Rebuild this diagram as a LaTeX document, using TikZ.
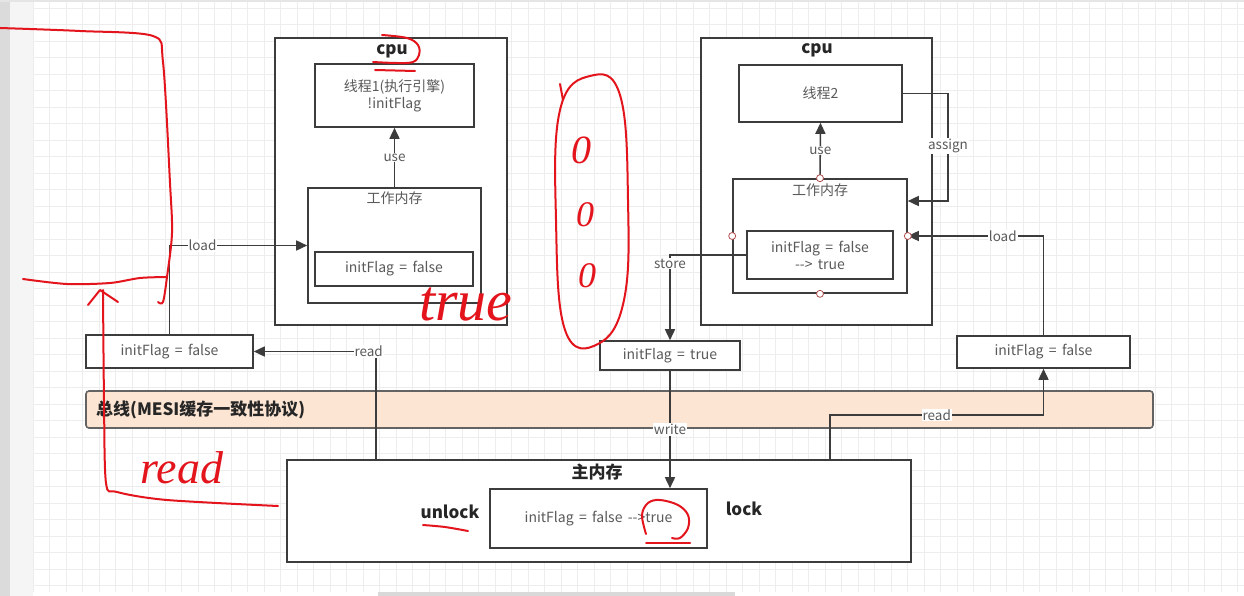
\documentclass[tikz,border=0pt]{standalone}
\usepackage{fontspec}
\setmainfont{Noto Sans CJK SC}[WordSpace=1.7]
\newfontfamily\hand{Liberation Serif}
\usetikzlibrary{arrows.meta,positioning}

\definecolor{linec}{HTML}{3C3C3C}
\definecolor{textc}{HTML}{5A5A5A}
\definecolor{busc}{HTML}{FCE5D3}
\definecolor{pen}{HTML}{E3141C}
\definecolor{gridc}{HTML}{EDEDED}
\definecolor{portc}{HTML}{B05050}

\tikzset{
  box/.style={draw=linec, fill=white, line width=1.6pt, inner sep=0pt, text=textc,
    font=\fontsize{14}{17}\selectfont, align=center},
  title/.style={inner sep=0pt, text=black!85, font=\bfseries\fontsize{17}{19}\selectfont},
  caption/.style={inner sep=0pt, text=textc, font=\fontsize{14}{16}\selectfont},
  link/.style={draw=linec, line width=1.6pt, -{Triangle[length=11pt,width=10pt]}},
  tag/.style={fill=white, inner sep=1pt, text=textc, font=\fontsize{13.5}{15}\selectfont},
  port/.style={circle, draw=portc, fill=white, inner sep=0pt, minimum size=7pt, line width=0.8pt},
  ink/.style={draw=pen, line width=2pt, line cap=round, line join=round},
  scrawl/.style={inner sep=0pt, text=pen, font=\hand\itshape\fontsize{46}{46}\selectfont},
}

\begin{document}
\begin{tikzpicture}[x=1pt,y=-1pt]
  \useasboundingbox (0,0) rectangle (1244,596);

  % page and grid
  \fill[white] (0,0) rectangle (1244,596);
  \foreach \gx in {33,49.5,...,1244} \draw[gridc, line width=0.6pt] (\gx,0) -- (\gx,592);
  \foreach \gy in {8,24.5,...,592} \draw[gridc, line width=0.6pt] (33,\gy) -- (1244,\gy);
  \fill[gray!28] (0,0) rectangle (10,596);
  \fill[gray!8] (10,0) rectangle (33,596);
  \fill[gray!20] (0,0) rectangle (1244,2);
  \fill[gray!30] (378,592) rectangle (735,596);

  % left cpu
  \node[box, minimum width=232, minimum height=287] (cpuL) at (391,181.5) {};
  \node[title] (cpuLt) at (392,51) {cpu};
  \node[box, minimum width=159, minimum height=63] (thL) at (394.5,95.5) {线程1(执行引擎)\\!initFlag};
  \node[box, minimum width=173, minimum height=115] (wmL) at (394.5,245.5) {};
  \node[caption] (wmLt) at (394.5,198) {工作内存};
  \node[box, minimum width=158, minimum height=34] (ivL) at (394,269) {initFlag = false};

  % right cpu
  \node[box, minimum width=231, minimum height=287] (cpuR) at (816.5,181.5) {};
  \node[title] (cpuRt) at (817,50) {cpu};
  \node[box, minimum width=163, minimum height=57] (thR) at (820.5,93.5) {线程2};
  \node[box, minimum width=174, minimum height=114] (wmR) at (820,236) {};
  \node[caption] (wmRt) at (820,190) {工作内存};
  \node[box, minimum width=146, minimum height=48] (ivR) at (820,255) {initFlag = false\\-{}-{}> true};

  % copies on the bus side
  \node[box, minimum width=167, minimum height=33] (lmemL) at (169.5,351.5) {initFlag = false};
  \node[box, minimum width=140, minimum height=29] (lmemM) at (670,355.5) {initFlag = true};
  \node[box, minimum width=173, minimum height=32] (lmemR) at (1043.5,352) {initFlag = false};

  % bus
  \node[box, fill=busc, draw=linec!80, rounded corners=3pt, minimum width=1067, minimum height=37] (bus) at (619.5,409.5) {};
  \node[title, anchor=west] (bust) at (96,410) {总线(MESI缓存一致性协议)};

  % main memory
  \node[box, minimum width=624, minimum height=102] (mainM) at (599,511) {};
  \node[title] (mainMt) at (597,472) {主内存};
  \node[box, minimum width=217, minimum height=59] (ivM) at (598.5,518.5) {initFlag = false -{}-{}>true};
  \node[title] (unlock) at (450,512) {unlock};
  \node[title] (lock) at (744,509) {lock};

  % connectors
  \coordinate (rdLfoot) at (376,460);
  \coordinate (rdRfoot) at (830,460);
  \coordinate (rdRbend) at (830,415);
  \coordinate (asgX) at (948,146);
  \draw[link] (wmL.north) -- (thL.south) node[tag, midway] {use};
  \draw[link] (lmemL.north) |- (wmL.west) node[tag, pos=0.62] {load};
  \draw[link] (rdLfoot) |- (lmemL.east) node[tag, pos=0.53] {read};
  \draw[link] (wmR.north) -- (thR.south) node[tag, midway] {use};
  \draw[link] (thR.east) -| (asgX) |- ([yshift=35pt]wmR.east);
  \node[tag] (asgT) at (asgX) {assign};
  \draw[link] (lmemR.north) |- (wmR.east) node[tag, pos=0.65] {load};
  \draw[link] (ivR.west) -| (lmemM.north) node[tag, pos=0.55] {store};
  \draw[link] (lmemM.south) -- (lmemM.south |- ivM.north) node[tag, midway] {write};
  \draw[link] (rdRfoot) -- (rdRbend) -| (lmemR.south) node[tag, pos=0.25] {read};
  \foreach \a in {north,south,east,west} \node[port] at (wmR.\a) {};

  % red pen marks
  \draw[ink] plot[smooth, tension=0.5] coordinates {(0,28) (80,31) (153,36) (163,62) (170,183) (172,233) (167,277) (163,302) (158,302)};
  \draw[ink] plot[smooth, tension=0.5] coordinates {(23,279) (67,284) (110,283) (140,278) (167,277)};
  \draw[ink] plot[smooth, tension=0.5] coordinates {(103,290) (104,400) (106,483) (117,492) (167,500) (278,506)};
  \draw[ink] (88,305) -- (100,290) -- (118,302);
  \node[scrawl] (penread) at (182,468) {read};
  \node[scrawl, font=\hand\itshape\fontsize{58}{58}\selectfont] (pentrue) at (466,305) {true};
  \draw[ink] plot[smooth, tension=0.6] coordinates {(382,35) (407,38) (418,45) (419,55) (413,62) (397,63) (373,62)};
  \draw[ink] (375,70) -- (415,71);
  \draw[ink] plot[smooth cycle, tension=0.7] coordinates {(590,76) (620,95) (628,200) (624,300) (598,344) (565,330) (556,220) (560,110)};
  \draw[ink] (560,84) -- (563,100);
  \node[scrawl, font=\hand\itshape\fontsize{40}{40}\selectfont] (pen0a) at (581,150) {0};
  \node[scrawl, font=\hand\itshape\fontsize{36}{36}\selectfont] (pen0b) at (585,215) {0};
  \node[scrawl, font=\hand\itshape\fontsize{36}{36}\selectfont] (pen0c) at (587,276) {0};
  \draw[ink] plot[smooth, tension=0.5] coordinates {(423,525) (445,527) (468,531)};
  \draw[ink] plot[smooth, tension=0.6] coordinates {(646,534) (642,515) (648,503) (660,500) (678,505) (688,515) (688,528) (680,538) (672,538)};
  \draw[ink] (646,543) -- (690,543);
\end{tikzpicture}
\end{document}
